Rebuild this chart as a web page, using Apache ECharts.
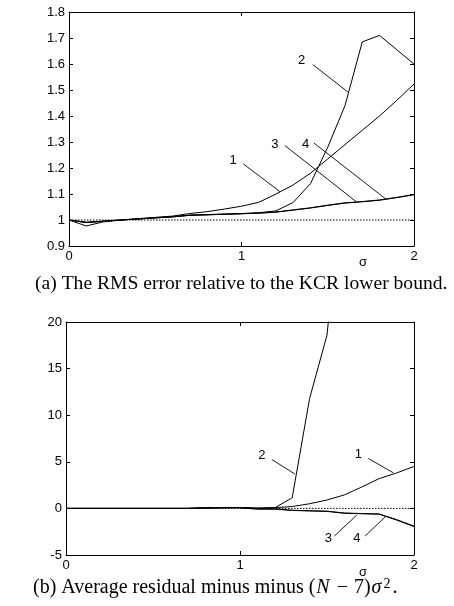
<!DOCTYPE html>
<html>
<head>
<meta charset="utf-8">
<script src="https://cdn.jsdelivr.net/npm/echarts@6/dist/echarts.min.js"></script>
<style>html,body{margin:0;padding:0;background:#fff}#c{width:454px;height:606px}</style>
</head>
<body>
<div id="c"></div>
<script>
// ---- data ----
const sigma = [0,0.1,0.2,0.3,0.4,0.5,0.6,0.7,0.8,0.9,1.0,1.1,1.2,1.3,1.4,1.5,1.6,1.7,1.8,1.9,2.0];

// (a) RMS error relative to KCR lower bound
const rms1 = [1.000,0.990,0.995,1.000,1.005,1.010,1.015,1.025,1.032,1.042,1.053,1.068,1.100,1.135,1.180,1.235,1.290,1.345,1.400,1.460,1.523];
const rms2 = [1.000,0.977,0.993,1.000,1.004,1.008,1.012,1.018,1.020,1.022,1.024,1.028,1.035,1.068,1.140,1.280,1.440,1.685,1.710,1.655,1.600];
const rms3 = [1.000,0.990,0.995,1.000,1.004,1.008,1.012,1.018,1.020,1.022,1.024,1.026,1.030,1.038,1.046,1.056,1.065,1.070,1.076,1.086,1.097];
const rms4 = [1.000,0.992,0.996,1.000,1.004,1.009,1.013,1.019,1.021,1.023,1.025,1.027,1.031,1.039,1.047,1.057,1.066,1.071,1.077,1.087,1.098];
const rmsRef = 1;

// (b) Average residual minus (N-7)sigma^2
const res1 = [0,0,0,0,0,0,0,0,0.05,0.08,0.10,0.05,0.08,0.20,0.50,0.90,1.45,2.30,3.20,3.80,4.50];
const res2 = [0,0,0,0,0,0,0,0,0.05,0.08,0.10,0.00,0.06,1.14,11.8,18.6,37.0,null,null,null,null];
const res3 = [0,0,0,0,0,0,0,0,0.05,0.08,0.08,-0.05,-0.05,-0.20,-0.25,-0.30,-0.50,-0.55,-0.60,-1.20,-1.90];
const res4 = [0,0,0,0,0,0,0,0,0.05,0.06,0.05,-0.08,-0.08,-0.22,-0.27,-0.32,-0.52,-0.57,-0.62,-1.25,-1.95];
const resRef = 0;

// curve labels with leader lines (data coordinates)
const rmsLabels = [
  {t:'1', lx:0.952, ly:1.228, x1:1.010, y1:1.216, x2:1.223, y2:1.109},
  {t:'2', lx:1.349, ly:1.614, x1:1.413, y1:1.598, x2:1.619, y2:1.491},
  {t:'3', lx:1.194, ly:1.292, x1:1.252, y1:1.286, x2:1.664, y2:1.071},
  {t:'4', lx:1.372, ly:1.292, x1:1.420, y1:1.296, x2:1.838, y2:1.080}
];
const resLabels = [
  {t:'2', lx:1.125, ly:5.64, x1:1.183, y1:5.25, x2:1.316, y2:3.68},
  {t:'1', lx:1.680, ly:5.82, x1:1.737, y1:5.36, x2:1.881, y2:3.82},
  {t:'3', lx:1.508, ly:-3.22, x1:1.542, y1:-2.97, x2:1.671, y2:-0.72},
  {t:'4', lx:1.671, ly:-3.22, x1:1.719, y1:-2.97, x2:1.839, y2:-0.83}
];

// ---- chart ----
const FONT = 'Arial, "Liberation Sans", Helvetica, sans-serif';
const SERIF = '"Times New Roman", "Liberation Serif", serif';
const chart = echarts.init(document.getElementById('c'), null, {renderer:'canvas'});

function pairs(vals){ return sigma.map((s,i)=>[s, vals[i]]); }

function xAxes(gi){
  const base = {type:'value', gridIndex:gi, min:0, max:2, interval:1,
    splitLine:{show:false},
    axisLine:{show:true, onZero:false, lineStyle:{color:'#000', width:1}},
    axisTick:{show:true, inside:true, length:4, lineStyle:{color:'#000'}}};
  return [
    Object.assign({}, base, {position:'bottom',
      axisLabel:{show:true, color:'#000', fontSize:13, fontFamily:FONT, margin:4}}),
    Object.assign({}, base, {position:'top', axisLabel:{show:false}})
  ];
}
function yAxes(gi, min, max, interval, fmt){
  const base = {type:'value', gridIndex:gi, min:min, max:max, interval:interval,
    splitLine:{show:false},
    axisLine:{show:true, onZero:false, lineStyle:{color:'#000', width:1}},
    axisTick:{show:true, inside:true, length:4, lineStyle:{color:'#000'}}};
  return [
    Object.assign({}, base, {position:'left',
      axisLabel:{show:true, color:'#000', fontSize:13, fontFamily:FONT, margin:4, formatter:fmt}}),
    Object.assign({}, base, {position:'right', axisLabel:{show:false}})
  ];
}

function curve(vals, xi, yi){
  return {type:'line', xAxisIndex:xi, yAxisIndex:yi, data:pairs(vals), showSymbol:false,
    symbol:'none', smooth:false, clip:true, silent:true, connectNulls:false,
    lineStyle:{color:'#000', width:1}, animation:false, z:3};
}
function refLine(v, xi, yi){
  return {type:'line', xAxisIndex:xi, yAxisIndex:yi,
    data:[[sigma[0], v],[sigma[sigma.length-1], v]], showSymbol:false, symbol:'none', silent:true,
    lineStyle:{color:'#000', width:1, type:[1.5,1.5]}, animation:false, z:2};
}
function annots(list, xi, yi){
  const out = [];
  list.forEach(a=>{
    out.push({type:'line', xAxisIndex:xi, yAxisIndex:yi, data:[[a.x1,a.y1],[a.x2,a.y2]],
      showSymbol:false, symbol:'none', silent:true, animation:false,
      lineStyle:{color:'#000', width:0.9}, z:4});
  });
  out.push({type:'scatter', xAxisIndex:xi, yAxisIndex:yi, silent:true, animation:false,
    symbol:'circle', symbolSize:2, itemStyle:{color:'rgba(0,0,0,0)'},
    data:list.map(a=>({value:[a.lx, a.ly], name:a.t})),
    label:{show:true, position:'inside', formatter:p=>p.name, color:'#000', opacity:1,
      fontSize:13, fontFamily:FONT}, z:5});
  return out;
}

const option = {
  backgroundColor:'#fff',
  animation:false,
  grid:[
    {left:69, top:12, width:345, height:234, containLabel:false},
    {left:66, top:322, width:348, height:233, containLabel:false}
  ],
  xAxis:[].concat(xAxes(0), xAxes(1)),
  yAxis:[].concat(
    yAxes(0, 0.9, 1.8, 0.1, v=>String(+v.toFixed(1))),
    yAxes(1, -5, 20, 5, v=>String(Math.round(v)))
  ),
  series:[].concat(
    [refLine(rmsRef,0,0), curve(rms1,0,0), curve(rms2,0,0), curve(rms3,0,0), curve(rms4,0,0)],
    annots(rmsLabels,0,0),
    [refLine(resRef,2,2), curve(res1,2,2), curve(res2,2,2), curve(res3,2,2), curve(res4,2,2)],
    annots(resLabels,2,2)
  ),
  graphic:[
    {type:'text', left:359, top:256, style:{text:'σ', fontSize:13, fontFamily:FONT, fill:'#000'}},
    {type:'text', left:359, top:566, style:{text:'σ', fontSize:13, fontFamily:FONT, fill:'#000'}},
    {type:'text', left:35, top:274, style:{text:'(a) The RMS error relative to the KCR lower bound.',
      fontSize:19.6, fontFamily:SERIF, fill:'#000'}},
    {type:'text', left:33, top:577, style:{
      text:'(b) Average residual minus minus ({i|N}{m|−}7){i|σ}{s|2}.',
      fontSize:20, fontFamily:SERIF, fill:'#000',
      rich:{
        i:{fontStyle:'italic', fontSize:20, fontFamily:SERIF, fill:'#000', padding:[0,1,0,1]},
        m:{fontSize:20, fontFamily:SERIF, fill:'#000', padding:[0,6,0,6]},
        s:{fontSize:14, fontFamily:SERIF, fill:'#000', verticalAlign:'top', padding:[0,2,8,1]}
      }}}
  ]
};
chart.setOption(option);
</script>
</body>
</html>
